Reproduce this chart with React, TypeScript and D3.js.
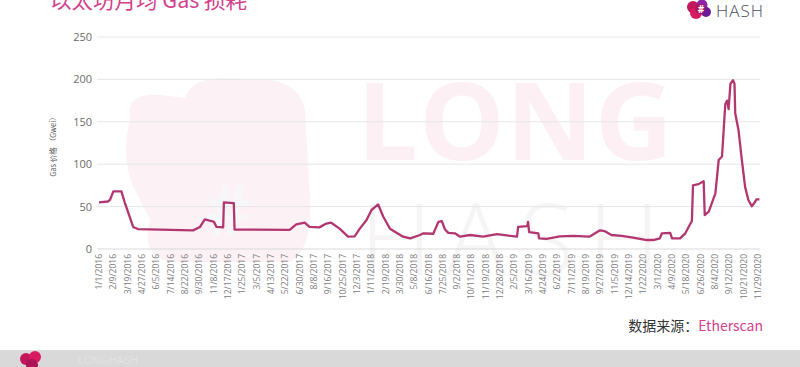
import React, { useRef, useEffect } from "react";
import * as d3 from "d3";

const WIDTH = 800;
const HEIGHT = 367;

// key points of the gas price line (Gwei)
const dates = [
  "1/1/2016", "1/25/2016", "1/31/2016", "2/9/2016", "3/2/2016", "3/11/2016", "4/3/2016", "4/16/2016",
  "9/13/2016", "10/2/2016", "10/15/2016", "11/2/2016", "11/9/2016", "11/16/2016", "12/4/2016", "12/6/2016",
  "1/2/2017", "1/4/2017", "6/3/2017", "6/21/2017", "7/14/2017", "7/27/2017", "8/23/2017", "9/11/2017",
  "9/24/2017", "10/17/2017", "11/9/2017", "11/27/2017", "12/11/2017", "12/29/2017", "1/12/2018", "1/30/2018",
  "2/13/2018", "3/3/2018", "4/8/2018", "4/27/2018", "5/24/2018", "6/2/2018", "6/29/2018", "7/13/2018",
  "7/22/2018", "7/31/2018", "8/9/2018", "8/27/2018", "9/10/2018", "10/7/2018", "11/12/2018", "12/19/2018",
  "1/15/2019", "2/12/2019", "2/15/2019", "3/12/2019", "3/14/2019", "3/17/2019", "4/11/2019", "4/13/2019",
  "5/3/2019", "6/9/2019", "7/15/2019", "8/28/2019", "9/26/2019", "10/9/2019", "10/27/2019", "11/24/2019",
  "12/25/2019", "1/31/2020", "2/18/2020", "3/7/2020", "3/12/2020", "4/4/2020", "4/9/2020", "5/1/2020",
  "5/15/2020", "6/2/2020", "6/5/2020", "6/20/2020", "7/4/2020", "7/7/2020", "7/18/2020", "8/5/2020",
  "8/14/2020", "8/23/2020", "9/1/2020", "9/6/2020", "9/10/2020", "9/15/2020", "9/22/2020", "9/26/2020",
  "9/28/2020", "10/7/2020", "10/16/2020", "10/25/2020", "11/3/2020", "11/12/2020", "11/21/2020", "11/25/2020",
  "12/3/2020",
];
const gasValues = [
  55, 56, 58, 68, 68, 55, 26, 23.5,
  22, 26, 35, 33, 32, 26, 25.5, 55,
  54, 23, 22.5, 29, 31, 26, 25.5, 30,
  31, 24, 14.5, 15, 24, 34, 46, 52.5,
  38, 24, 14.5, 12.5, 16.5, 18.5, 18, 32,
  33, 23, 19, 18.5, 14.5, 16.5, 14.5, 17.5,
  16, 14.5, 26, 27, 32, 20, 18.5, 12.5,
  12, 15, 15.5, 14.5, 22, 21, 16.5, 15.5,
  13.5, 10.6, 10.6, 12.5, 18.5, 19, 12.5, 12.5,
  18.5, 33, 75, 76.5, 80, 40, 44, 65.5,
  105, 109, 171, 175, 165, 195, 199, 195,
  160, 140, 105, 73, 57.5, 50.5, 55.5, 58.5,
  58.5,
];

const tickLabels = [
  "1/1/2016", "2/9/2016", "3/19/2016", "4/27/2016", "6/5/2016", "7/14/2016", "8/22/2016", "9/30/2016",
  "11/8/2016", "12/17/2016", "1/25/2017", "3/5/2017", "4/13/2017", "5/22/2017", "6/30/2017", "8/8/2017",
  "9/16/2017", "10/25/2017", "12/3/2017", "1/11/2018", "2/19/2018", "3/30/2018", "5/8/2018", "6/16/2018",
  "7/25/2018", "9/2/2018", "10/11/2018", "11/19/2018", "12/28/2018", "2/5/2019", "3/16/2019", "4/24/2019",
  "6/2/2019", "7/11/2019", "8/19/2019", "9/27/2019", "11/5/2019", "12/14/2019", "1/22/2020", "3/1/2020",
  "4/9/2020", "5/18/2020", "6/26/2020", "8/4/2020", "9/12/2020", "10/21/2020", "11/29/2020",
];
const yTicks = [0, 50, 100, 150, 200, 250];

const LATIN = "'Open Sans', 'Noto Sans CJK SC', sans-serif";
const CJK = "'Noto Sans CJK SC', 'Open Sans', sans-serif";

const App = () => {
  const svgRef = useRef<SVGSVGElement>(null);

  useEffect(() => {
    document.body.style.margin = "0";
    document.body.style.overflow = "hidden";

    const parse = d3.timeParse("%m/%d/%Y");
    const svg = d3.select(svgRef.current);
    svg.selectAll("*").remove();

    const x = d3.scaleTime()
      .domain([parse(tickLabels[0])!, parse(tickLabels[tickLabels.length - 1])!])
      .range([99, 758]);
    const y = d3.scaleLinear().domain([0, 250]).range([249, 37]);

    svg.append("rect").attr("width", WIDTH).attr("height", HEIGHT).attr("fill", "#ffffff");

    // faint watermark behind the plot
    const wm = svg.append("g");
    wm.append("path")
      .attr("d", "M130,120 Q125,92 160,95 L185,98 Q190,80 220,78 L270,80 Q300,84 305,110 L310,200 Q312,250 290,262 L170,262 Q140,255 150,220 L135,190 Q120,160 130,120 Z")
      .attr("fill", "#fcf1f5");
    wm.append("text")
      .attr("x", 228).attr("y", 235)
      .attr("text-anchor", "middle")
      .style("font-family", LATIN).style("font-size", "70px").style("font-weight", 700)
      .attr("fill", "#f7f7f9")
      .text("#");
    wm.append("text")
      .attr("x", 515).attr("y", 160)
      .attr("text-anchor", "middle")
      .attr("textLength", 316)
      .style("font-family", LATIN).style("font-size", "108px").style("font-weight", 700)
      .attr("fill", "#fdf0f4")
      .text("LONG");
    wm.append("text")
      .attr("x", 510).attr("y", 275)
      .attr("text-anchor", "middle")
      .attr("textLength", 300)
      .style("font-family", LATIN).style("font-size", "100px").style("font-weight", 300)
      .attr("fill", "#f6f4f5")
      .text("HASH");

    // gridlines
    svg.append("g")
      .selectAll("line")
      .data(yTicks)
      .join("line")
      .attr("x1", 97).attr("x2", 760)
      .attr("y1", d => y(d)).attr("y2", d => y(d))
      .attr("stroke", d => (d === 0 ? "#d9d9d9" : "#e6e6e6"))
      .attr("stroke-width", 1);

    // y tick labels
    svg.append("g")
      .selectAll("text")
      .data(yTicks)
      .join("text")
      .attr("x", 92).attr("y", d => y(d) + 4)
      .attr("text-anchor", "end")
      .style("font-family", LATIN).style("font-size", "11px")
      .attr("fill", "#6b6b6b")
      .text(d => d);

    // y axis title
    svg.append("text")
      .attr("transform", "translate(56,145) rotate(-90)")
      .attr("text-anchor", "middle")
      .style("font-family", CJK).style("font-size", "7.5px")
      .attr("fill", "#555")
      .text("Gas 价格 （Gwei）");

    // x tick labels
    svg.append("g")
      .selectAll("text")
      .data(tickLabels)
      .join("text")
      .attr("transform", d => `translate(${x(parse(d)!) + 3},254) rotate(-90)`)
      .attr("text-anchor", "end")
      .style("font-family", LATIN).style("font-size", "8.5px")
      .attr("fill", "#7a7a7a")
      .text(d => d);

    // line
    const points = dates.map((d, i) => ({ date: parse(d)!, value: gasValues[i] }));
    const line = d3.line<{ date: Date; value: number }>()
      .x(d => x(d.date))
      .y(d => y(d.value));
    svg.append("path")
      .datum(points)
      .attr("d", line)
      .attr("fill", "none")
      .attr("stroke", "#b2366f")
      .attr("stroke-width", 2.3)
      .attr("stroke-linejoin", "round");

    // title
    svg.append("text")
      .attr("x", 50).attr("y", 8)
      .style("font-family", CJK).style("font-size", "21.5px")
      .attr("fill", "#d2428c")
      .text("以太坊月均 Gas 损耗");

    // top-right logo
    const logo = svg.append("g").attr("transform", "translate(700,9)");
    [[-7, -2, 6, "#c2185b"], [2, -4, 5.5, "#8e24aa"], [-4, 4, 6, "#d81b60"], [6, 3, 5, "#6a1b9a"], [0, 0, 5, "#ad1457"]].forEach(([cx, cy, r, c]) => {
      logo.append("circle").attr("cx", cx as number).attr("cy", cy as number).attr("r", r as number).attr("fill", c as string);
    });
    logo.append("text")
      .attr("x", 1).attr("y", 4)
      .attr("text-anchor", "middle")
      .style("font-family", LATIN).style("font-size", "10px").style("font-weight", 700)
      .attr("fill", "#ffffff")
      .text("#");
    svg.append("text")
      .attr("x", 716).attr("y", 17)
      .style("font-family", LATIN).style("font-size", "17px").style("font-weight", 300)
      .style("letter-spacing", "1px")
      .attr("fill", "#4a4e60")
      .text("HASH");

    // source
    const src = svg.append("text")
      .attr("x", 763).attr("y", 331)
      .attr("text-anchor", "end")
      .style("font-family", CJK).style("font-size", "14px");
    src.append("tspan").attr("fill", "#333333").text("数据来源：");
    src.append("tspan").attr("fill", "#d2428c").text("Etherscan");

    // footer band
    svg.append("rect").attr("x", 0).attr("y", 350).attr("width", WIDTH).attr("height", 17).attr("fill", "#d9d9d9");
    const flogo = svg.append("g").attr("transform", "translate(32,361)");
    [[-6, -2, 6, "#c2185b"], [3, -4, 6, "#d81b60"], [0, 4, 6, "#ad1457"]].forEach(([cx, cy, r, c]) => {
      flogo.append("circle").attr("cx", cx as number).attr("cy", cy as number).attr("r", r as number).attr("fill", c as string);
    });
    svg.append("text")
      .attr("x", 78).attr("y", 364)
      .style("font-family", LATIN).style("font-size", "11px")
      .attr("fill", "#e2e2e2")
      .text("LONGHASH");
  }, []);

  return <svg ref={svgRef} width={WIDTH} height={HEIGHT} style={{ display: "block" }} />;
};

export default App;
